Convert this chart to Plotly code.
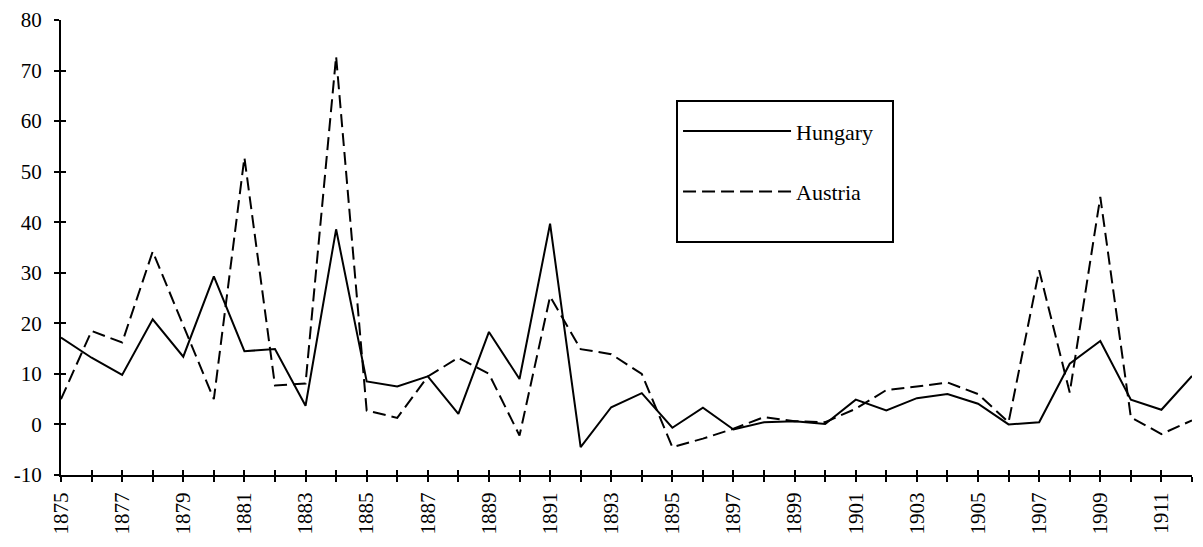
import plotly.graph_objects as go

years = list(range(1875, 1913))
hungary = [17.2, 13.2, 9.8, 20.8, 13.4, 29.3, 14.5, 14.9, 3.7, 38.6,
           8.5, 7.5, 9.5, 2.1, 18.3, 9.0, 39.7, -4.5, 3.4, 6.2,
           -0.65, 3.3, -1.0, 0.45, 0.65, 0.1, 4.9, 2.75, 5.2, 6.0,
           4.1, 0.0, 0.45, 12.0, 16.5, 4.9, 2.9, 9.6]
austria = [5.0, 18.5, 16.2, 34.2, 19.6, 5.0, 52.8, 7.7, 8.1, 72.8,
           2.75, 1.3, 9.5, 13.2, 10.0, -2.2, 25.3, 14.9, 13.9, 10.0,
           -4.5, -2.8, -0.85, 1.45, 0.65, 0.45, 3.1, 6.8, 7.5, 8.3,
           6.0, 0.45, 30.5, 6.3, 45.0, 1.4, -1.9, 0.8]
x_tick_vals = years
x_tick_text = [str(y) if y % 2 == 1 else "" for y in years]
y_tick_vals = [-10, 0, 10, 20, 30, 40, 50, 60, 70, 80]
y_tick_text = ["-10", "0", "10", "20", "30", "40", "50", "60", "70", "80"]

FONT = "Liberation Serif, Times New Roman, serif"
NB = "\u00a0"

fig = go.Figure()
fig.add_trace(go.Scatter(x=years, y=hungary, mode="lines", name="Hungary",
                         line=dict(color="black", width=2), legendgroup="h"))
fig.add_trace(go.Scatter(x=years, y=austria, mode="lines",
                         name="Austria<br>" + NB,
                         line=dict(color="black", width=2, dash="13px,6px"),
                         legendgroup="a"))
# helper trace for the overlay axes (inner halves of the crossing ticks)
fig.add_trace(go.Scatter(x=[None], y=[None], xaxis="x2", yaxis="y2",
                         showlegend=False, hoverinfo="skip"))

axis_common = dict(showline=True, linecolor="black", linewidth=2,
                   showgrid=False, zeroline=False, tickcolor="black",
                   tickwidth=2, ticklen=5, automargin=False)

# the page body has an 8px default margin, so the figure is 8px smaller
fig.update_layout(
    template="none",
    width=1195, height=539,
    margin=dict(l=53, r=11, t=12, b=72),
    plot_bgcolor="white", paper_bgcolor="white",
    font=dict(family=FONT, size=21, color="black"),
    xaxis=dict(range=[1875, 1912], tickmode="array", tickvals=x_tick_vals,
               ticktext=x_tick_text, tickangle=-90, ticks="outside",
               ticklabelstandoff=2, ticklabeloverflow="allow",
               **axis_common),
    yaxis=dict(range=[-10, 80], tickmode="array", tickvals=y_tick_vals,
               ticktext=y_tick_text, ticks="outside", ticklabelstandoff=8,
               ticklabeloverflow="allow", **axis_common),
    xaxis2=dict(range=[1875, 1912], tickmode="array", tickvals=x_tick_vals,
                ticks="inside", showticklabels=False, overlaying="x",
                anchor="y2", side="bottom", **axis_common),
    yaxis2=dict(range=[-10, 80], tickmode="array", tickvals=y_tick_vals,
                ticks="inside", showticklabels=False, overlaying="y",
                anchor="x2", side="left", **axis_common),
    showlegend=True,
    legend=dict(x=0.5438, y=0.8235, xanchor="left", yanchor="top",
                bordercolor="black", borderwidth=2, bgcolor="white",
                font=dict(family=FONT, size=22, color="black"),
                title=dict(text=NB * 140, font=dict(size=6)),
                traceorder="grouped", tracegroupgap=29, itemwidth=108,
                valign="top"),
)

fig.write_html("out.html")
